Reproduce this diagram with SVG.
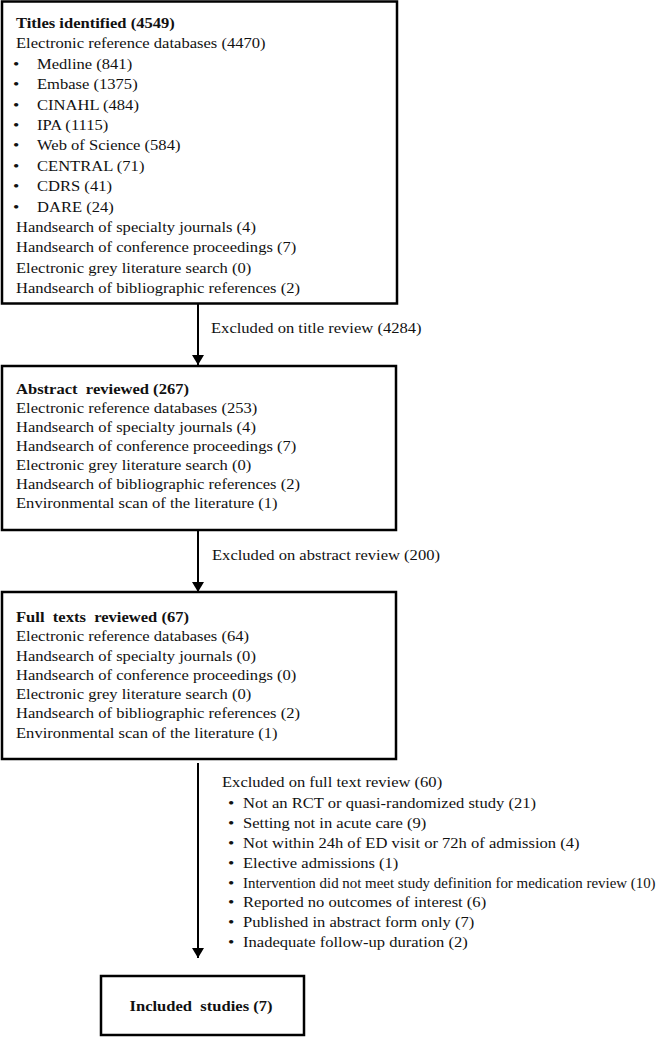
<svg xmlns="http://www.w3.org/2000/svg" width="662" height="1037" viewBox="0 0 662 1037">
<style>
  .box{fill:#fff;stroke:#000;stroke-width:2.5}
  .t{font-family:"Liberation Serif","Times New Roman",serif;font-size:13.8px;fill:#111;white-space:pre}
  .b{font-weight:bold}
  .bu{font-size:15px}
  .conn{stroke:#000;stroke-width:2;fill:none}
</style>
<defs>
  <marker id="ah" viewBox="0 0 10 12" refX="10" refY="6" markerWidth="10" markerHeight="12" markerUnits="userSpaceOnUse" orient="auto">
    <path d="M0,0 L10,6 L0,12 Z" fill="#000"/>
  </marker>
</defs>
<rect width="662" height="1037" fill="#fff"/>
<g id="connectors">
  <line class="conn" x1="198" y1="304" x2="198" y2="365" marker-end="url(#ah)"/>
  <line class="conn" x1="198" y1="531" x2="198" y2="592" marker-end="url(#ah)"/>
  <line class="conn" x1="198" y1="763" x2="198" y2="958" marker-end="url(#ah)"/>
  <text class="t" transform="translate(211,0) scale(1.2,1)"><tspan x="0" y="333">Excluded on title review (4284)</tspan></text>
  <text class="t" transform="translate(212,0) scale(1.2,1)"><tspan x="0" y="560">Excluded on abstract review (200)</tspan></text>
</g>
<g id="titles">
  <rect class="box" x="2" y="1.5" width="395" height="302"/>
  <text class="t" transform="translate(16,0) scale(1.2,1)">
    <tspan class="b" x="0" y="28">Titles identified (4549)</tspan>
    <tspan x="0" y="48.4">Electronic reference databases (4470)</tspan>
    <tspan class="bu" x="-2.5" y="68.8">•</tspan><tspan x="17.5" y="68.8">Medline (841)</tspan>
    <tspan class="bu" x="-2.5" y="89.2">•</tspan><tspan x="17.5" y="89.2">Embase (1375)</tspan>
    <tspan class="bu" x="-2.5" y="109.6">•</tspan><tspan x="17.5" y="109.6">CINAHL (484)</tspan>
    <tspan class="bu" x="-2.5" y="130">•</tspan><tspan x="17.5" y="130">IPA (1115)</tspan>
    <tspan class="bu" x="-2.5" y="150.4">•</tspan><tspan x="17.5" y="150.4">Web of Science (584)</tspan>
    <tspan class="bu" x="-2.5" y="170.8">•</tspan><tspan x="17.5" y="170.8">CENTRAL (71)</tspan>
    <tspan class="bu" x="-2.5" y="191.2">•</tspan><tspan x="17.5" y="191.2">CDRS (41)</tspan>
    <tspan class="bu" x="-2.5" y="211.6">•</tspan><tspan x="17.5" y="211.6">DARE (24)</tspan>
    <tspan x="0" y="232">Handsearch of specialty journals (4)</tspan>
    <tspan x="0" y="252.4">Handsearch of conference proceedings (7)</tspan>
    <tspan x="0" y="272.8">Electronic grey literature search (0)</tspan>
    <tspan x="0" y="293.2">Handsearch of bibliographic references (2)</tspan>
  </text>
</g>
<g id="abstract">
  <rect class="box" x="2" y="366" width="394" height="164"/>
  <text class="t" transform="translate(16,0) scale(1.2,1)">
    <tspan class="b" x="0" y="394">Abstract  reviewed (267)</tspan>
    <tspan x="0" y="413">Electronic reference databases (253)</tspan>
    <tspan x="0" y="432">Handsearch of specialty journals (4)</tspan>
    <tspan x="0" y="451">Handsearch of conference proceedings (7)</tspan>
    <tspan x="0" y="470">Electronic grey literature search (0)</tspan>
    <tspan x="0" y="489">Handsearch of bibliographic references (2)</tspan>
    <tspan x="0" y="508">Environmental scan of the literature (1)</tspan>
  </text>
</g>
<g id="fulltexts">
  <rect class="box" x="2" y="592" width="394" height="167"/>
  <text class="t" transform="translate(16,0) scale(1.2,1)">
    <tspan class="b" x="0" y="622">Full  texts  reviewed (67)</tspan>
    <tspan x="0" y="641.3">Electronic reference databases (64)</tspan>
    <tspan x="0" y="660.6">Handsearch of specialty journals (0)</tspan>
    <tspan x="0" y="679.9">Handsearch of conference proceedings (0)</tspan>
    <tspan x="0" y="699.2">Electronic grey literature search (0)</tspan>
    <tspan x="0" y="718.5">Handsearch of bibliographic references (2)</tspan>
    <tspan x="0" y="737.8">Environmental scan of the literature (1)</tspan>
  </text>
</g>
<g id="excluded-fulltext">
  <text class="t" transform="translate(222,0) scale(1.2,1)">
    <tspan x="0" y="787">Excluded on full text review (60)</tspan>
    <tspan class="bu" x="5" y="808">•</tspan><tspan x="17.5" y="808">Not an RCT or quasi-randomized study (21)</tspan>
    <tspan class="bu" x="5" y="827.9">•</tspan><tspan x="17.5" y="827.9">Setting not in acute care (9)</tspan>
    <tspan class="bu" x="5" y="847.8">•</tspan><tspan x="17.5" y="847.8">Not within 24h of ED visit or 72h of admission (4)</tspan>
    <tspan class="bu" x="5" y="867.7">•</tspan><tspan x="17.5" y="867.7">Elective admissions (1)</tspan>
    <tspan class="bu" x="5" y="887.6">•</tspan>
    <tspan class="bu" x="5" y="907.5">•</tspan><tspan x="17.5" y="907.5">Reported no outcomes of interest (6)</tspan>
    <tspan class="bu" x="5" y="927.4">•</tspan><tspan x="17.5" y="927.4">Published in abstract form only (7)</tspan>
    <tspan class="bu" x="5" y="947.3">•</tspan><tspan x="17.5" y="947.3">Inadequate follow-up duration (2)</tspan>
  </text>
  <text class="t" transform="translate(243,0) scale(1.08,1)" x="0" y="887.6">Intervention did not meet study definition for medication review (10)</text>
</g>
<g id="included">
  <rect class="box" x="101" y="976" width="203" height="59"/>
  <text class="t b" text-anchor="middle" transform="translate(201,0) scale(1.2,1)"><tspan x="0" y="1011">Included  studies (7)</tspan></text>
</g>
</svg>
